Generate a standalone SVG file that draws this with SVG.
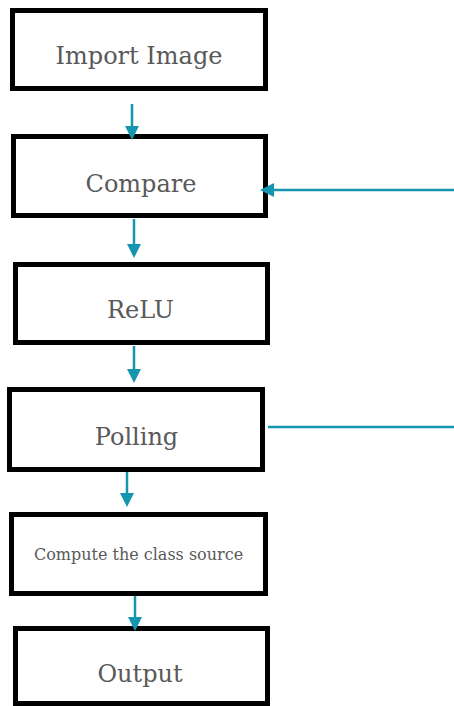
<svg xmlns="http://www.w3.org/2000/svg" width="454" height="706" viewBox="0 0 454 706">
  <style>
    .box { fill: #ffffff; stroke: #000000; stroke-width: 5; }
    .lbl { font-family: "DejaVu Serif", "Liberation Serif", serif; font-size: 24px; fill: #595959; text-anchor: middle; }
    .small { font-size: 16px; }
    .conn { stroke: #1497ae; stroke-width: 2.5; fill: none; }
  </style>
  <defs>
    <marker id="ah" markerWidth="14" markerHeight="14" refX="10" refY="7" orient="auto" markerUnits="userSpaceOnUse">
      <path d="M0,0 L14,7 L0,14 z" fill="#1497ae"/>
    </marker>
  </defs>
  <rect width="454" height="706" fill="#ffffff"/>
  <g id="node-import">
    <rect class="box" x="12.5" y="10.5" width="253" height="78"/>
    <text class="lbl" x="139" y="64">Import Image</text>
  </g>
  <g id="node-compare">
    <rect class="box" x="13.5" y="136.5" width="252" height="79"/>
    <text class="lbl" x="141" y="192">Compare</text>
  </g>
  <g id="node-relu">
    <rect class="box" x="15.5" y="264.5" width="252" height="78"/>
    <text class="lbl" x="140.5" y="318">ReLU</text>
  </g>
  <g id="node-polling">
    <rect class="box" x="9.5" y="389.5" width="253" height="80"/>
    <text class="lbl" x="136.5" y="445">Polling</text>
  </g>
  <g id="node-compute">
    <rect class="box" x="11.5" y="514.5" width="254" height="79"/>
    <text class="lbl small" x="138.5" y="560">Compute the class source</text>
  </g>
  <g id="node-output">
    <rect class="box" x="15.5" y="628.5" width="252" height="75"/>
    <text class="lbl" x="140" y="682">Output</text>
  </g>
  <g id="connectors">
    <line class="conn" x1="132" y1="104" x2="132" y2="136" marker-end="url(#ah)"/>
    <line class="conn" x1="134" y1="219" x2="134" y2="254" marker-end="url(#ah)"/>
    <line class="conn" x1="134" y1="346" x2="134" y2="379" marker-end="url(#ah)"/>
    <line class="conn" x1="127" y1="472" x2="127" y2="503" marker-end="url(#ah)"/>
    <line class="conn" x1="135" y1="596" x2="135" y2="627" marker-end="url(#ah)"/>
    <line class="conn" x1="454" y1="190" x2="264" y2="190" marker-end="url(#ah)"/>
    <line class="conn" x1="268" y1="427" x2="454" y2="427"/>
  </g>
</svg>
